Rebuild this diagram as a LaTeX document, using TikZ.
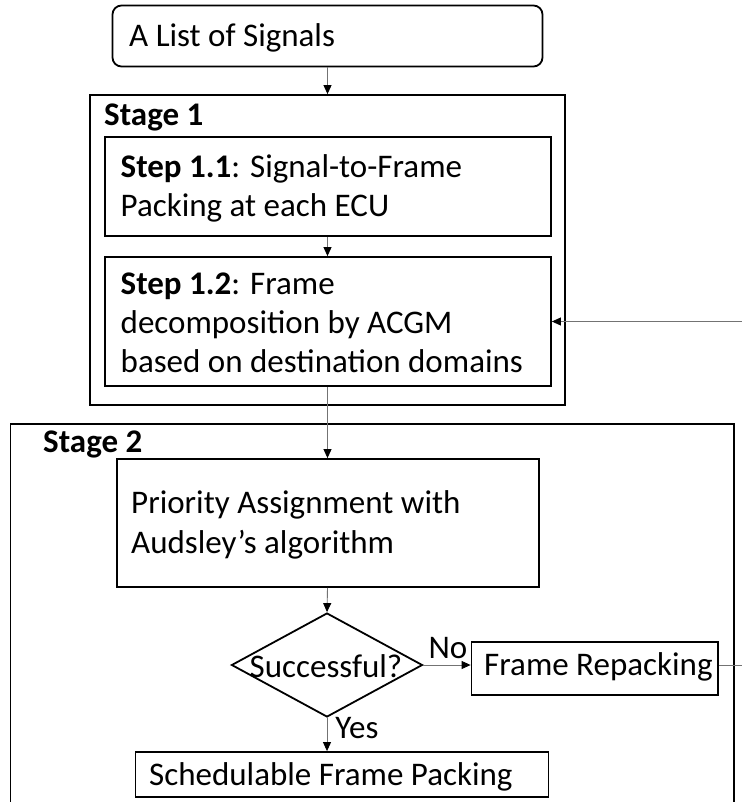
\documentclass[tikz,border=0pt]{standalone}
\usepackage{fontspec}
\setmainfont{Carlito}
\usetikzlibrary{shapes.geometric,arrows.meta}

\begin{document}
\begin{tikzpicture}[x=1pt,y=-1pt,
  font=\fontsize{33}{39}\selectfont,
  frame/.style={draw=black, line width=1.8pt, rectangle, inner sep=0pt},
  txt/.style={anchor=base west, inner sep=0pt, align=left},
  link/.style={draw=black!55, line width=0.9pt,
    -{Triangle[length=9pt,width=8pt,fill=black,color=black]}},
  plain/.style={draw=black!55, line width=0.9pt},
  lbl/.style={inner sep=0pt, anchor=base west}]
\useasboundingbox (0,0) rectangle (741,802);

% input
\node[frame, rounded corners=9pt, minimum width=430pt, minimum height=61pt]
  (sig) at (327.5,36) {};
\node[txt] (tsig) at (129,47) {A List of Signals};

% stage 1
\node[frame, minimum width=475pt, minimum height=310pt] (st1) at (327.5,250) {};
\node[txt] (tst1) at (104,126) {\bfseries Stage 1};
\node[frame, minimum width=446pt, minimum height=99pt] (s11) at (328,186.5) {};
\node[txt] (ts11a) at (120.5,178) {\bfseries Step 1.1\mdseries: Signal-to-Frame};
\node[txt] (ts11b) at (120.5,217) {Packing at each ECU};
\node[frame, minimum width=446pt, minimum height=129pt] (s12) at (328,321.5) {};
\node[txt] (ts12a) at (120.5,294) {\bfseries Step 1.2\mdseries: Frame};
\node[txt] (ts12b) at (120.5,333) {decomposition by ACGM};
\node[txt] (ts12c) at (120.5,372) {based on destination domains};

% stage 2
\node[frame, minimum width=723.5pt, minimum height=391pt] (st2) at (372.25,619.5) {};
\node[txt] (tst2) at (43,452) {\bfseries Stage 2};
\node[frame, minimum width=422pt, minimum height=128pt] (pri) at (328,523) {};
\node[txt] (tpri1) at (131,513) {Priority Assignment with};
\node[txt] (tpri2) at (131,553) {Audsley’s algorithm};
\node[draw=black, line width=1.8pt, diamond, inner sep=0pt,
  minimum width=191pt, minimum height=104pt] (dia) at (327,665) {};
\node[anchor=base, inner sep=0pt] (tdia) at (326,677) {Successful?};
\node[frame, minimum width=246.5pt, minimum height=53pt] (rep) at (594.75,668.5) {};
\node[txt] (trep) at (484,675) {Frame Repacking};
\node[frame, minimum width=413pt, minimum height=45pt] (sch) at (342,774.5) {};
\node[txt] (tsch) at (149,785) {Schedulable Frame Packing};

% connectors
\coordinate (back) at (760,665);
\draw[link] (sig.south) -- (sig.south |- st1.north);
\draw[link] (s11.south -| sig.south) -- (s12.north -| sig.south);
\draw[link] (s12.south -| sig.south) -- (pri.north -| sig.south);
\draw[link] (pri.south -| sig.south) -- (dia.north);
\draw[link] (dia.east) -- (dia.east -| rep.west)
  node[lbl, pos=0.1, yshift=7pt] (no) {No};
\draw[link] (dia.south) -- (sch.north -| dia.south)
  node[lbl, pos=0.5, xshift=8pt, yshift=-3.5pt] (yes) {Yes};
\draw[plain] (rep.east |- dia.east) -- (back);
\draw[link] (back) |- (s12.east);
\end{tikzpicture}
\end{document}
